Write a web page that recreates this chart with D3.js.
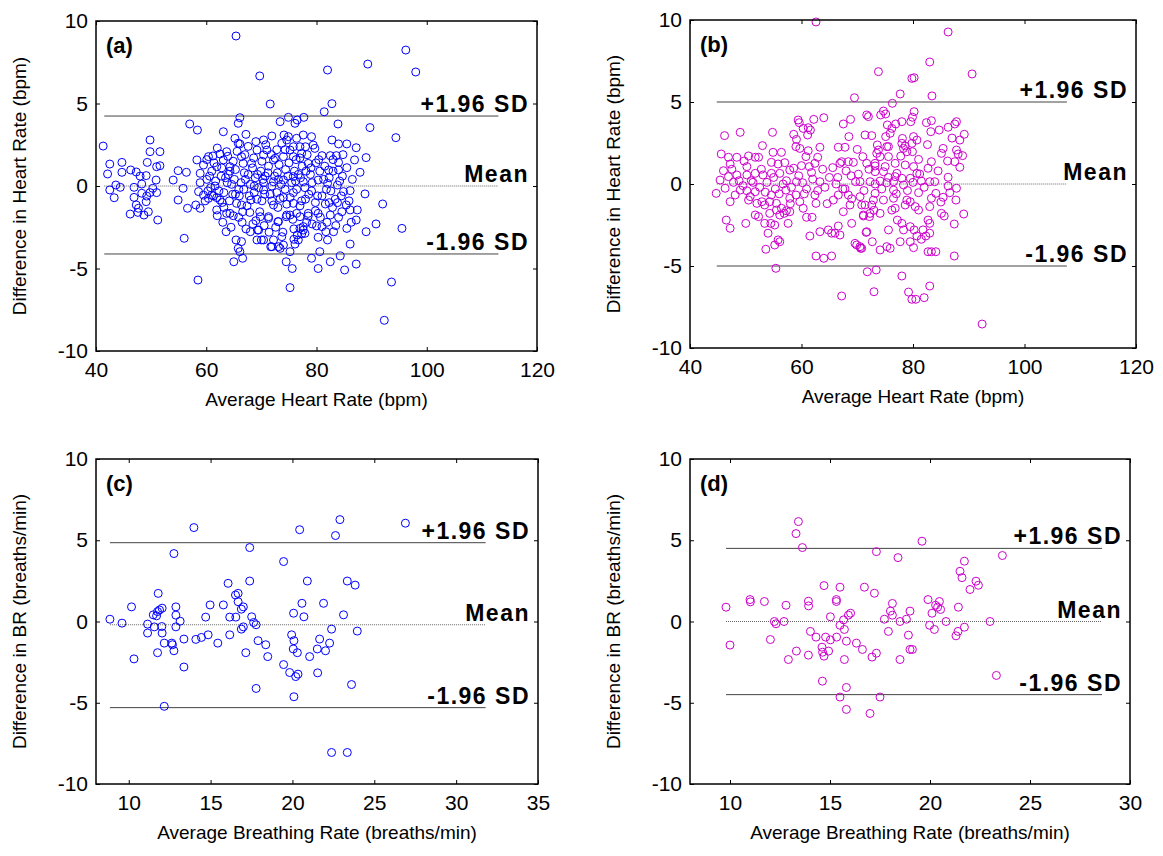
<!DOCTYPE html>
<html>
<head>
<meta charset="utf-8">
<script src="https://cdn.jsdelivr.net/npm/d3@7"></script>
<style>
  body { margin: 0; background: #fff; }
  text { font-family: Arial, "Liberation Sans", sans-serif; }
</style>
</head>
<body>
<svg id="chart" width="1163" height="856"></svg>
<script>
// ---- data: [average, difference] ----
const hrWatchPoints = [
  [41.3,2.42],[42.1,0.73],[42.5,1.33],[44.7,1.43],[44.7,0.83],[46.3,0.97],[47.3,0.85],[48.0,0.6],[49.1,0.63],[49.3,1.43],
  [49.8,2.08],[49.8,2.79],[51.0,1.17],[51.6,1.23],[51.6,2.08],[50.9,0.36],[48.3,0.12],[43.6,0.06],[54.9,0.93],[54.0,0.36],
  [56.4,0.83],[57.0,3.76],[58.4,3.39],[58.3,1.58],[58.9,0.77],[59.5,1.27],[60.4,1.78],[61.2,1.82],[61.9,1.17],[62.5,1.94],
  [63.1,1.58],[63.1,3.29],[63.7,2.08],[64.3,1.17],[65.4,9.09],[65.8,3.8],[66.1,4.14],[65.2,2.89],[65.8,2.59],[66.1,2.55],
  [66.4,1.78],[67.2,3.13],[66.7,1.37],[68.2,1.37],[69.0,2.69],[69.7,6.67],[71.6,4.97],[70.4,2.79],[71.0,2.18],[71.9,3.03],
  [72.2,1.58],[73.4,3.9],[73.7,2.59],[74.1,3.09],[74.6,2.79],[74.9,4.16],[76.1,3.8],[76.5,4.0],[77.7,4.16],[75.2,2.18],
  [75.8,1.78],[77.0,2.38],[77.6,3.09],
  [82.0,7.03],[89.3,7.39],[96.2,8.24],[98.0,6.91],[81.4,4.5],[82.8,4.99],[83.9,3.76],[89.7,3.54],[94.4,2.93],[74.9,2.99],
  [76.4,2.89],[79.1,2.99],[82.8,2.79],[84.0,2.55],[85.5,2.55],[87.2,2.32],[89.0,1.72],[86.9,1.58],[87.9,0.83],[85.5,1.11],
  [84.0,1.43],[84.0,0.97],[82.5,1.84],[83.6,1.84],[81.0,1.84],[82.2,0.97],[79.4,2.48],[79.7,2.28],[78.5,1.37],[78.0,2.38],
  [77.3,1.98],[75.8,2.38],[74.0,1.78],[72.5,1.68],[70.4,1.88],[69.2,2.18],[88.8,-0.48],[86.1,-0.28],[84.9,-0.34],[83.8,0.06],
  [82.0,0.16],[80.3,0.36],[77.6,0.26],[75.8,0.57],[74.0,0.36],[72.2,0.26],[70.4,0.2],
  [92.0,-1.09],[90.8,-2.3],[95.5,-2.57],[89.0,-2.77],[87.2,-2.06],[87.4,-1.45],[86.1,-1.45],[85.4,-1.15],[85.5,-2.57],[86.1,-3.52],
  [87.2,-4.73],[84.3,-4.24],[85.1,-5.09],[82.5,-4.59],[80.3,-5.0],[80.6,-3.98],[79.1,-4.38],[82.0,-3.27],[80.3,-3.11],[81.7,-2.77],
  [83.1,-2.77],[81.0,-2.46],[80.0,-2.42],[82.5,-1.76],[84.0,-1.9],[84.6,-1.56],[83.8,-1.01],[82.3,-1.01],[81.6,-1.09],[80.3,-1.66],
  [78.5,-1.82],[77.0,-1.86],[75.7,-2.02],[74.6,-1.76],[73.1,-2.16],[71.3,-1.96],[69.8,-1.86],[69.5,-2.67],[69.2,-3.27],[70.4,-3.27],
  [72.2,-3.27],[71.9,-3.68],[73.4,-3.78],[74.0,-3.58],[75.2,-3.98],[76.1,-3.52],[76.7,-3.27],[77.3,-2.91],[77.6,-2.67],[77.0,-2.57],
  [74.5,-4.59],[75.6,-5.0],[75.2,-6.16],[93.6,-5.82],[92.3,-8.14],
  [42.5,-0.24],[43.3,-0.71],[44.4,-0.08],[46.2,-1.7],[46.9,-0.08],[46.9,-0.69],[47.3,-1.15],[47.7,-1.35],[47.6,-1.6],[48.7,-1.76],
  [49.5,-1.56],[49.1,-0.95],[49.2,-0.61],[49.8,-0.4],[51.0,-0.4],[50.3,-0.14],[48.3,-0.44],[51.2,-2.06],[54.9,-0.85],[55.8,-0.14],
  [56.0,-3.17],[56.6,-1.35],[58.1,-1.15],[58.9,-1.35],[58.5,-5.7],[58.6,-0.34],[59.5,-0.55],[60.4,-0.75],[61.0,-0.55],[61.9,-1.45],
  [62.5,-0.85],[63.7,-1.66],[64.3,-1.66],[63.6,-2.77],[65.4,-3.27],[65.8,-3.78],[66.4,-3.37],[66.1,-3.98],[66.6,-4.38],[65.0,-4.59],
  [65.5,-1.05],[66.4,-1.15],[66.6,-1.56],[68.1,-0.85],[68.0,-2.77],[69.3,-2.67],[69.7,-1.56],[70.0,-3.27],[70.4,-0.24],[71.3,-1.86],
  [71.7,-3.68],[72.2,-1.15],[73.1,-3.68],[73.7,-3.07],[73.0,-2.16],[73.4,-0.75],[74.5,-1.86],[75.9,-3.23],[76.5,-2.97],[77.6,-2.46],
  [77.9,-2.87],[76.4,-1.66],[75.2,-1.76],[75.8,-1.05],[78.5,-1.66],
  [58.9,0.2],[60.1,0.4],[60.8,-0.1],[61.7,0.3],[62.3,-0.3],[63.5,0.5],[64.6,0.1],[65.9,-0.2],[67.1,0.4],[68.0,0.1],
  [68.9,0.5],[69.5,-0.1],[70.7,0.6],[71.9,0.0],[73.1,0.4],[74.3,-0.2],[75.5,0.2],[76.7,0.7],[77.9,-0.1],[61.0,0.9],
  [62.8,1.1],[64.0,0.7],[65.3,1.0],[66.9,0.8],[68.4,1.1],[69.9,0.9],[71.3,1.2],[72.9,0.8],[74.4,1.0],[76.0,0.9],
  [77.4,1.2],[78.9,0.7],[79.9,1.4],[81.3,0.4],[59.8,-0.9],[61.3,-0.6],[62.9,-1.0],[64.8,-0.5],[66.0,-0.6],[67.4,-1.2],
  [68.7,-0.4],[70.1,-0.9],[71.6,-0.5],[73.0,-1.3],[74.0,-0.7],[75.8,-0.4],[77.3,-0.9],[78.6,-0.5],[79.8,-1.0],[81.0,-0.6],
  [82.6,-0.3],[83.4,-0.8],[84.2,0.3],[80.7,-1.9],[79.2,-2.3],[63.2,-1.3],[64.9,-1.8],[66.5,-2.2],[67.9,-1.6],[69.0,-2.1],
  [60.1,1.6],[61.4,1.4],[62.0,2.3],[63.9,1.8],[64.9,1.5],[65.6,2.1],[67.0,1.9],[67.6,2.4],[68.6,1.7],[70.1,1.5],
  [70.8,2.5],[71.8,1.9],[72.8,2.2],[73.2,1.3],[74.3,2.2],[75.0,1.4],[76.3,1.6],[77.0,1.7],[78.3,1.9],[79.0,1.1],
  [80.4,1.6],[81.5,1.2],[83.0,1.6],[84.8,1.9],
  [60.6,0.6],[61.6,0.0],[62.7,0.6],[63.8,0.2],[64.3,0.9],[65.1,0.4],[66.3,0.2],[67.6,0.7],[68.7,0.0],[69.3,0.7],
  [70.3,0.4],[71.2,0.8],[72.4,0.6],[73.6,0.1],[74.8,0.6],[76.2,0.3],[77.1,0.5],[78.1,0.9],[79.2,0.2],[80.6,0.9],
  [82.3,0.5],[83.0,0.9],[84.7,0.6],[86.5,0.4],
  [60.3,-0.3],[61.9,-0.7],[63.2,-0.4],[64.2,-0.9],[65.3,-0.5],[66.8,-0.2],[67.8,-0.6],[69.2,-0.8],[70.6,-0.5],[71.9,-0.9],
  [72.8,-0.4],[74.6,-1.1],[75.2,-0.7],[76.4,-0.2],[77.0,-1.2],[78.0,-0.8],[79.1,-0.3],[80.2,-0.6],[81.8,-0.2],[82.9,-1.3],
  [84.5,-0.6],[85.9,-0.9],
  [62.0,-1.8],[63.0,-2.2],[64.5,-2.5],[65.9,-1.9],[67.2,-2.6],[68.5,-2.3],[70.5,-2.4],[71.4,-2.8],[72.6,-2.5],[73.9,-2.8],
  [75.9,-2.6],[78.2,-2.2],[79.8,-1.5],[81.9,-2.2],[83.5,-2.4],[86.3,-2.2]
];

const hrCameraPoints = [
  [62.6,9.88],[73.8,6.85],[69.5,5.26],[46.2,2.95],[49.0,3.15],[54.8,3.15],[45.6,1.83],[46.9,1.63],[48.4,1.63],[47.2,1.22],
  [46.0,0.81],[45.4,0.24],[44.7,-0.57],[46.9,0.45],[48.4,0.55],[50.2,1.06],[50.5,1.71],[51.7,1.63],[53.0,2.34],[52.3,1.63],
  [54.6,1.32],[54.9,1.93],[56.4,1.93],[55.8,1.22],[56.1,0.65],[54.6,0.65],[53.1,0.55],[51.7,0.65],[50.2,0.55],[57.3,0.2],
  [57.9,0.85],[58.6,3.03],[59.4,3.9],[59.6,3.74],[60.3,3.39],[61.2,3.43],[61.6,3.29],[62.2,3.94],[61.1,2.99],[59.1,2.72],
  [59.7,2.17],[59.0,2.28],[64.0,4.04],[63.3,2.24],[62.9,1.63],[62.4,1.26],[61.2,2.03],[60.8,1.67],[60.0,1.12],[58.6,0.96],
  [61.4,1.06],[63.3,0.14],[60.2,0.08],[59.1,0.14],[66.6,2.24],[66.9,1.26],[67.2,1.36],[67.5,3.66],[68.5,2.89],[68.8,3.94],
  [67.8,2.24],[68.4,1.36],[69.3,1.32],[70.0,2.11],[69.7,0.14],[70.5,0.14],[71.4,2.99],[71.7,4.21],[72.0,4.11],[72.6,2.95],
  [71.7,1.26],[73.2,1.1],[73.8,2.07],[73.6,2.38],[74.2,4.21],[74.7,4.45],[75.1,4.27],[74.1,1.67],[75.0,1.06],[75.3,2.28],
  [75.4,3.6],[75.1,2.89],[73.2,0.0],[75.3,0.08],
  [86.3,9.27],[83.0,7.44],[79.8,6.44],[80.2,6.48],[90.6,6.71],[77.7,5.49],[83.4,5.37],[76.3,4.92],[80.2,4.41],[79.9,4.07],
  [79.6,3.8],[78.0,3.8],[76.9,3.66],[76.2,3.39],[83.3,3.86],[82.4,3.74],[84.7,3.29],[83.2,3.19],[86.3,3.46],[87.5,3.66],
  [87.8,3.8],[89.2,3.03],[88.4,2.68],[75.9,3.09],[78.0,2.48],[78.6,2.32],[78.1,2.78],[80.1,2.89],[80.7,2.68],[79.8,2.48],
  [79.9,1.97],[78.9,1.97],[78.3,2.17],[75.6,2.28],[73.5,1.87],[71.0,1.67],[85.4,2.17],[85.1,1.87],[87.8,2.07],[88.1,1.83],
  [88.9,1.73],[88.4,1.02],[87.5,1.36],[83.3,1.36],[82.7,0.96],[81.2,0.61],[80.1,1.06],[78.6,1.16],[76.8,1.26],[75.6,1.67],
  [74.7,0.75],[73.2,0.75],[73.2,1.26],[77.1,0.65],[76.8,0.45],[78.0,0.35],[79.5,0.35],[80.7,0.65],[81.5,0.18],[83.0,0.14],
  [83.9,0.14],[86.3,0.41],[76.5,0.14],[74.1,0.18],[72.3,0.14],[87.8,-0.26],[86.3,-0.12],
  [87.7,-0.98],[89.1,-1.83],[87.4,-2.44],[86.6,-0.53],[85.4,-0.81],[85.1,-1.79],[85.6,-1.95],[84.1,-0.57],[83.3,-0.87],[83.0,-1.38],
  [81.0,-0.53],[82.7,-2.2],[83.0,-2.4],[83.0,-3.0],[81.8,-2.8],[82.3,-3.17],[81.5,-3.37],[80.7,-3.17],[80.2,-2.8],[79.5,-2.6],
  [79.5,-3.52],[80.1,-3.88],[77.7,-3.52],[78.3,-2.8],[78.0,-2.4],[77.2,-2.2],[75.6,-2.8],[75.3,-3.82],[75.9,-3.92],[74.1,-4.02],
  [72.7,-3.52],[71.6,-2.95],[70.8,-3.92],[72.2,-1.99],[71.1,-1.89],[74.1,-1.79],[76.2,-1.59],[76.8,-1.48],[78.6,-1.28],[80.4,-1.38],
  [81.0,-1.59],[79.5,-1.08],[78.9,-0.98],[76.5,-0.87],[74.7,-0.98],[72.9,-0.98],[72.6,-1.28],[71.4,-1.28],[73.2,-0.57],[76.5,-0.37],
  [78.3,-0.06],[82.7,-4.13],[83.3,-4.13],[84.1,-4.13],[87.4,-4.39],[71.8,-5.35],[73.4,-5.24],[78.0,-5.61],[79.2,-6.59],[79.8,-7.03],
  [80.5,-7.03],[82.0,-6.93],[83.0,-6.22],[73.0,-6.57],[92.4,-8.54],
  [46.3,-0.26],[47.2,-1.08],[48.1,-0.67],[46.5,-2.2],[47.2,-2.7],[49.0,-0.37],[50.0,-2.4],[50.2,-0.41],[50.5,-0.98],[50.8,-0.77],
  [51.7,-0.47],[52.0,-1.18],[52.9,-1.08],[51.7,-1.89],[52.3,-1.99],[53.4,-2.4],[54.0,-3.0],[53.6,-3.98],[55.2,-3.72],[55.8,-3.41],
  [56.1,-3.52],[55.4,-5.14],[54.5,-2.4],[55.2,-2.5],[54.3,-1.79],[54.3,-1.08],[53.4,-1.28],[54.6,-0.67],[55.5,-1.18],[55.5,-1.59],
  [56.1,-1.89],[56.4,-1.48],[56.9,-1.79],[57.3,-1.63],[57.6,-2.4],[57.9,-1.69],[57.2,-0.37],[57.9,-0.87],[59.0,-0.67],[59.7,-1.08],
  [60.3,-1.48],[60.9,-2.03],[61.9,-2.03],[61.5,-3.17],[62.6,-4.39],[64.0,-4.53],[65.4,-4.39],[62.6,-1.18],[62.4,-0.67],[63.3,-2.91],
  [64.8,-2.8],[65.4,-3.0],[66.6,-2.56],[66.9,-3.11],[66.0,-3.0],[67.2,-6.83],[65.7,-0.98],[66.6,-0.67],[67.5,-1.69],[68.4,-0.67],
  [69.0,-2.4],[69.6,-3.62],[69.9,-3.72],[70.5,-3.82],[70.6,-3.92],[68.7,-1.28],[70.5,-0.77],[70.8,-1.28],[71.7,-2.91],[71.1,-1.95],
  [72.3,-1.79],
  [47.8,0.1],[49.5,-0.1],[51.0,0.2],[52.5,-0.2],[53.8,0.1],[55.3,-0.3],[56.7,0.0],[58.2,-0.2],[60.9,-0.3],[62.0,0.3],
  [64.2,-0.2],[65.0,0.4],[66.2,0.0],[67.8,-0.3],[68.9,0.5],
  [47.5,0.9],[48.8,0.2],[49.7,1.4],[51.3,0.1],[52.8,0.9],[53.5,-0.5],[55.0,0.4],[56.0,-0.6],[57.0,1.3],[58.0,-1.2],
  [59.5,0.5],[60.5,-0.6],[61.8,0.7],[62.9,-0.4],[63.8,0.9],[64.6,-1.2],[65.6,1.0],[66.5,0.4],[67.4,-0.3],[68.0,0.8],
  [69.0,-0.9],[70.2,0.6],[71.2,-0.4],[72.1,0.9],[73.0,-1.6],[74.4,-0.3],[75.6,0.4],[77.0,-0.6],[77.8,1.7],[79.0,-0.4],
  [80.0,0.1],[81.0,1.5],[82.0,-0.2],[82.6,2.4],[84.5,0.8],[85.0,-1.1],[86.2,1.4],[87.0,2.8]
];

const brWatchPoints = [
  [8.85,0.14],[9.59,-0.1],[10.17,0.9],[10.32,-2.3],[11.15,-0.16],[11.15,-0.71],[11.5,0.41],[11.56,-0.33],[11.7,0.35],[11.76,0.61],
  [11.8,1.73],[11.88,0.71],[12.04,0.82],[12.02,-0.31],[12.04,-0.71],[11.76,-1.92],[12.17,-1.33],[12.17,-5.22],[12.63,-1.33],[12.67,-1.43],
  [12.76,-1.8],[12.76,4.18],[12.88,0.9],[12.88,0.39],[12.88,-0.33],[13.14,0.02],[13.37,-1.08],[13.37,-2.8],[13.98,5.78],[14.1,-1.1],
  [14.44,-0.98],[14.7,0.27],[14.85,-0.82],[14.97,1.02],[15.44,-1.33],[15.78,1.02],[16.07,2.35],[16.17,0.27],[16.17,-0.82],[16.52,1.63],
  [16.68,1.73],[16.54,0.27],[16.68,1.22],[16.88,0.76],[17.0,0.9],[16.88,-0.47],[17.0,-0.33],[17.15,-1.92],[17.39,4.55],[17.39,2.49],
  [17.51,0.29],[17.63,-0.06],[17.78,-0.2],[17.78,-4.12],[17.9,-1.18],[18.37,-1.43],[18.49,-2.16],[19.46,3.69],[19.46,-2.65],[19.83,-3.14],
  [19.95,-0.82],[20.09,-1.18],[20.05,-1.69],[20.07,0.51],[20.3,-1.92],[20.2,-3.39],[20.34,-3.24],[20.09,-4.63],[20.44,5.65],[20.58,1.12],
  [20.7,0.29],[20.91,2.49],[21.05,-2.16],[21.54,-3.16],[21.52,-1.69],[21.66,-1.08],[21.9,1.12],[22.02,-1.8],[22.27,-1.33],[22.39,-0.47],
  [22.39,-8.06],[22.63,5.29],[22.9,6.27],[23.12,0.41],[23.35,2.49],[23.35,-8.06],[23.61,-3.88],[23.83,2.24],[23.96,-0.59],[26.9,6.05]
];

const brCameraPoints = [
  [9.8,0.88],[10.0,-1.45],[11.0,1.35],[11.02,1.21],[11.72,1.23],[12.02,-1.11],[12.22,0.0],[12.3,-0.14],[12.7,0.0],[12.8,1.0],
  [12.92,-2.34],[13.32,-1.82],[13.3,5.41],[13.42,6.15],[13.62,4.55],[13.92,1.25],[13.93,0.96],[13.92,-2.07],[14.02,-0.61],[14.3,-0.96],
  [14.62,-3.67],[14.6,-1.58],[14.63,-1.89],[14.7,-2.13],[14.7,2.21],[14.78,-0.96],[14.93,-1.82],[15.02,0.29],[15.02,-1.13],[15.32,1.35],
  [15.32,1.23],[15.33,-0.96],[15.5,2.11],[15.5,-0.23],[15.5,-4.65],[15.68,0.1],[15.72,-0.49],[15.72,-2.34],[15.82,-1.21],[15.82,-4.06],
  [15.82,-5.41],[15.92,0.39],[16.03,0.51],[16.32,-1.33],[16.62,-1.72],[16.72,2.11],[17.0,-5.66],[17.1,-2.19],[17.22,1.74],[17.32,-1.95],
  [17.32,4.3],[17.5,-4.65],[17.72,0.14],[17.92,-0.61],[18.02,0.64],[18.12,1.11],[18.12,0.39],[18.4,3.93],[18.5,0.0],[18.5,-2.34],
  [18.82,0.14],[18.92,-0.84],[19.0,0.64],[19.0,-1.72],[19.12,-1.72],[19.6,4.94],[19.9,1.35],[19.98,-0.23],[20.1,0.51],[20.22,-0.49],
  [20.28,1.0],[20.38,0.88],[20.47,1.23],[20.53,0.74],[20.8,0.0],[21.3,-0.88],[21.4,-0.61],[21.42,0.88],[21.5,3.09],[21.6,2.7],
  [21.72,3.71],[21.72,-0.35],[22.0,1.97],[22.3,2.48],[22.42,2.23],[23.0,0.0],[23.32,-3.32],[23.62,4.06]
];

// mean, +1.96 SD, -1.96 SD
const hrWatchLimits = [0.0, 4.24, -4.12];
const hrCameraLimits = [0.0, 5.0, -5.0];
const brWatchLimits = [-0.2, 4.85, -5.3];
const brCameraLimits = [0.0, 4.5, -4.5];

// x extent of the limit lines
const hrWatchSpan = [41.5, 113];
const hrCameraSpan = [44.8, 107.6];
const brWatchSpan = [8.85, 31.8];
const brCameraSpan = [9.8, 28.6];

const hrTicks = [40, 60, 80, 100, 120];
const brTicksC = [10, 15, 20, 25, 30, 35];
const brTicksD = [10, 15, 20, 25, 30];
const diffTicks = [-10, -5, 0, 5, 10];
const limitLabels = ['Mean', '+1.96 SD', '-1.96 SD'];

const svg = d3.select('#chart');
const plain = d3.format('d');
const tickFmt = d => plain(d).replace('\u2212', '-');

function panel(o) {
  const x = d3.scaleLinear().domain(o.xDomain).range([o.left, o.right]);
  const y = d3.scaleLinear().domain([-10, 10]).range([o.bottom, o.top]);
  const g = svg.append('g');

  // limit lines (mean dotted, SD solid)
  g.selectAll('line.lim')
    .data(o.limits)
    .join('line')
    .attr('x1', x(o.span[0]))
    .attr('x2', x(o.span[1]))
    .attr('y1', d => y(d))
    .attr('y2', d => y(d))
    .attr('stroke', (d, i) => i === 0 ? '#666' : '#444')
    .attr('stroke-width', 1)
    .attr('stroke-dasharray', (d, i) => i === 0 ? '1,1' : null);

  g.selectAll('circle')
    .data(o.points)
    .join('circle')
    .attr('cx', d => x(d[0]))
    .attr('cy', d => y(d[1]))
    .attr('r', 4)
    .attr('fill', 'none')
    .attr('stroke', o.color)
    .attr('stroke-width', 1);

  // labels for the limit lines
  g.selectAll('text.lim')
    .data(o.limits)
    .join('text')
    .attr('x', o.right - 8)
    .attr('y', d => y(d) - 4)
    .attr('text-anchor', 'end')
    .style('font-size', '23px')
    .style('font-weight', 'bold')
    .style('letter-spacing', '1.5px')
    .text((d, i) => limitLabels[i]);

  // axes, ticks point inward
  const ax = (gen, tr) => g.append('g').attr('transform', tr).call(gen)
    .call(s => s.select('.domain').remove())
    .call(s => s.selectAll('line').attr('stroke', '#000'))
    .call(s => s.selectAll('text').style('font-size', '21px').attr('fill', '#000').style('font-family', 'Arial, "Liberation Sans", sans-serif'));
  ax(d3.axisBottom(x).tickValues(o.xTicks).tickSize(-4).tickPadding(11).tickFormat(tickFmt), `translate(0,${o.bottom})`);
  ax(d3.axisTop(x).tickValues(o.xTicks).tickSize(-4).tickFormat(''), `translate(0,${o.top})`);
  ax(d3.axisLeft(y).tickValues(diffTicks).tickSize(-4).tickPadding(8).tickFormat(tickFmt), `translate(${o.left},0)`);
  ax(d3.axisRight(y).tickValues(diffTicks).tickSize(-4).tickFormat(''), `translate(${o.right},0)`);

  g.append('rect')
    .attr('x', o.left).attr('y', o.top)
    .attr('width', o.right - o.left).attr('height', o.bottom - o.top)
    .attr('fill', 'none').attr('stroke', '#000').attr('stroke-width', 1.5);

  g.append('text')
    .attr('x', o.left + 10).attr('y', o.top + 32)
    .style('font-size', '22px').style('font-weight', 'bold')
    .text(o.tag);

  g.append('text')
    .attr('x', (o.left + o.right) / 2).attr('y', o.bottom + 55)
    .attr('text-anchor', 'middle')
    .style('font-size', '19px')
    .text(o.xLabel);

  g.append('text')
    .attr('transform', `translate(${o.left - 70},${(o.top + o.bottom) / 2}) rotate(-90)`)
    .attr('text-anchor', 'middle')
    .style('font-size', '19px')
    .text(o.yLabel);
}

panel({ tag: '(a)', points: hrWatchPoints, limits: hrWatchLimits, span: hrWatchSpan, color: '#0000ff',
  xDomain: [40, 120], xTicks: hrTicks, left: 96, right: 537, top: 21, bottom: 351,
  xLabel: 'Average Heart Rate (bpm)', yLabel: 'Difference in Heart Rate (bpm)' });
panel({ tag: '(b)', points: hrCameraPoints, limits: hrCameraLimits, span: hrCameraSpan, color: '#cc00cc',
  xDomain: [40, 120], xTicks: hrTicks, left: 690, right: 1136, top: 20, bottom: 348,
  xLabel: 'Average Heart Rate (bpm)', yLabel: 'Difference in Heart Rate (bpm)' });
panel({ tag: '(c)', points: brWatchPoints, limits: brWatchLimits, span: brWatchSpan, color: '#0000ff',
  xDomain: [8, 35], xTicks: brTicksC, left: 96, right: 538, top: 459, bottom: 784,
  xLabel: 'Average Breathing Rate (breaths/min)', yLabel: 'Difference in BR (breaths/min)' });
panel({ tag: '(d)', points: brCameraPoints, limits: brCameraLimits, span: brCameraSpan, color: '#cc00cc',
  xDomain: [8, 30], xTicks: brTicksD, left: 690, right: 1130, top: 459, bottom: 784,
  xLabel: 'Average Breathing Rate (breaths/min)', yLabel: 'Difference in BR (breaths/min)' });
</script>
</body>
</html>
